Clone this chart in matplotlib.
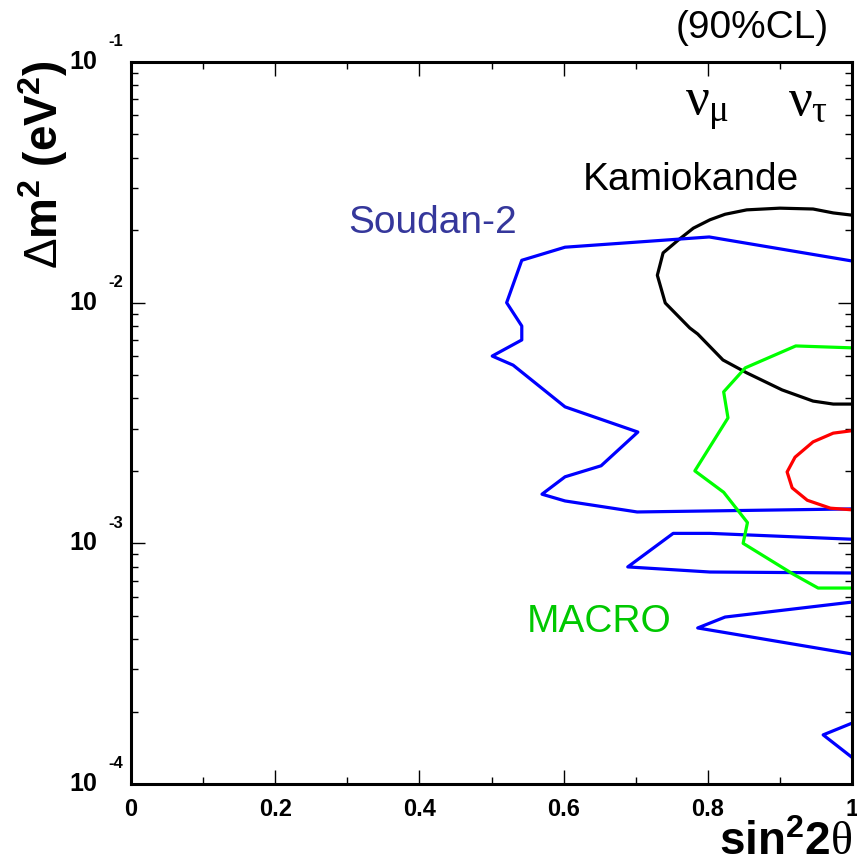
"""
Allowed regions for nu_mu -> nu_tau oscillations (90% CL):
Kamiokande, Soudan-2, MACRO and a new (red) contour.
"""
import matplotlib
matplotlib.use('Agg')
import matplotlib.pyplot as plt
import matplotlib.transforms as mtransforms
from matplotlib.ticker import MultipleLocator, LogLocator, NullFormatter

plt.rcParams['font.family'] = ['Liberation Sans', 'DejaVu Sans']
plt.rcParams['mathtext.fontset'] = 'custom'
plt.rcParams['mathtext.rm'] = 'Liberation Sans'
plt.rcParams['mathtext.bf'] = 'Liberation Sans:bold'
plt.rcParams['mathtext.it'] = 'Liberation Serif'

# --- contours: sin^2(2theta), delta m^2 (eV^2) ---
kamiokande_x = [1.0, 0.974, 0.946, 0.900, 0.854, 0.824, 0.803, 0.780, 0.759, 0.738,
                0.730, 0.741, 0.775, 0.786, 0.821, 0.854, 0.903, 0.946, 0.974, 1.0]
kamiokande_y = [0.0231, 0.0236, 0.0245, 0.0247, 0.0243, 0.0233, 0.0221, 0.0204, 0.0182, 0.0161,
                0.0130, 0.00997, 0.00785, 0.00741, 0.00578, 0.00511, 0.00434, 0.00390, 0.00379, 0.00379]

soudan_x = [1.0, 0.802, 0.602, 0.542, 0.521, 0.542, 0.542, 0.501, 0.530, 0.602,
            0.703, 0.652, 0.602, 0.570, 0.602, 0.702, 1.0]
soudan_y = [0.0149, 0.01875, 0.0170, 0.0150, 0.0100, 0.0080, 0.0070, 0.0060, 0.0055, 0.00369,
            0.00290, 0.00210, 0.00189, 0.00160, 0.00150, 0.00135, 0.00139]
soudan2_x = [1.0, 0.803, 0.752, 0.689, 0.803, 1.0]
soudan2_y = [0.00104, 0.00110, 0.00110, 0.000798, 0.000760, 0.000753]
soudan3_x = [1.0, 0.824, 0.786, 1.0]
soudan3_y = [0.000570, 0.000494, 0.000445, 0.000347]
soudan4_x = [1.0, 0.960, 1.0]
soudan4_y = [0.000179, 0.000160, 0.000129]

macro_x = [1.0, 0.922, 0.852, 0.822, 0.828, 0.782, 0.822, 0.855, 0.849, 0.918, 0.953, 1.0]
macro_y = [0.00649, 0.00661, 0.00536, 0.00426, 0.00332, 0.00200, 0.00163, 0.00122,
           0.00100, 0.000746, 0.000652, 0.000652]

red_x = [0.997, 0.974, 0.946, 0.921, 0.910, 0.917, 0.938, 0.970, 0.997]
red_y = [0.00293, 0.00287, 0.00264, 0.00228, 0.00198, 0.00170, 0.00151, 0.00140, 0.00138]

x_ticks = [0, 0.2, 0.4, 0.6, 0.8, 1.0]
x_ticklabels = ['0', '0.2', '0.4', '0.6', '0.8', '1']
y_decades = [1e-4, 1e-3, 1e-2, 1e-1]
y_exponents = ['-4', '-3', '-2', '-1']

fig = plt.figure(figsize=(8.57, 8.65), dpi=100)
ax = fig.add_axes([131 / 857, 1 - 784 / 865, 721 / 857, 722 / 865])

lw = 2.3
ax.plot(kamiokande_x, kamiokande_y, color='black', lw=lw)
for xs, ys in [(soudan_x, soudan_y), (soudan2_x, soudan2_y),
               (soudan3_x, soudan3_y), (soudan4_x, soudan4_y)]:
    ax.plot(xs, ys, color='#0000ff', lw=lw)
ax.plot(macro_x, macro_y, color='#00ff00', lw=lw)
ax.plot(red_x, red_y, color='#ff0000', lw=lw)

ax.set_yscale('log')
ax.set_xlim(0, 1)
ax.set_ylim(1e-4, 1e-1)

ax.xaxis.set_minor_locator(MultipleLocator(0.1))
ax.set_xticks(x_ticks)
ax.set_xticklabels(x_ticklabels, fontsize=17, fontweight='bold')
ax.yaxis.set_major_locator(LogLocator(base=10))
ax.yaxis.set_minor_locator(LogLocator(base=10, subs=range(2, 10)))
ax.yaxis.set_major_formatter(NullFormatter())
ax.yaxis.set_minor_formatter(NullFormatter())
ax.tick_params(which='both', direction='in', top=True, right=True, width=1.0)
ax.tick_params(which='major', length=10)
ax.tick_params(which='minor', length=5)
ax.tick_params(axis='x', pad=10)
for s in ax.spines.values():
    s.set_linewidth(2.2)

# ROOT-style "10^-n" labels on the y axis
ytrans = mtransforms.blended_transform_factory(ax.transAxes, ax.transData)
exptrans = mtransforms.offset_copy(ytrans, fig=fig, x=0, y=20, units='dots')
for v, e in zip(y_decades, y_exponents):
    ax.text(-0.047, v, '10', transform=ytrans, ha='right', va='center',
            fontsize=18, fontweight='bold')
    ax.text(-0.032, v, e, transform=exptrans, ha='left', va='center',
            fontsize=12, fontweight='bold')

fig.text(0.994, 1 - 855 / 865, r'$\mathbf{sin^{2}2}\theta$', ha='right', va='baseline',
         fontsize=33)
fig.text(16 / 857, 1 - 60 / 865, r'$\mathrm{\Delta}\mathbf{m^{2}\ (eV^{2})}$', ha='left',
         va='top', rotation=90, fontsize=33)
fig.text(829 / 857, 1 - 38 / 865, '(90%CL)', ha='right', va='baseline', fontsize=28)

ax.text(0.768, 0.0602, r'$\nu_{\mu}$', fontsize=38, ha='left', va='baseline')
ax.text(0.911, 0.0602, r'$\nu_{\tau}$', fontsize=38, ha='left', va='baseline')
ax.text(0.627, 0.0294, 'Kamiokande', fontsize=28, ha='left', va='baseline')
ax.text(0.301, 0.01945, 'Soudan-2', fontsize=28, ha='left', va='baseline', color='#35379b')
ax.text(0.549, 0.000429, 'MACRO', fontsize=28, ha='left', va='baseline', color='#00c800')

fig.savefig('out.png', dpi=100)
